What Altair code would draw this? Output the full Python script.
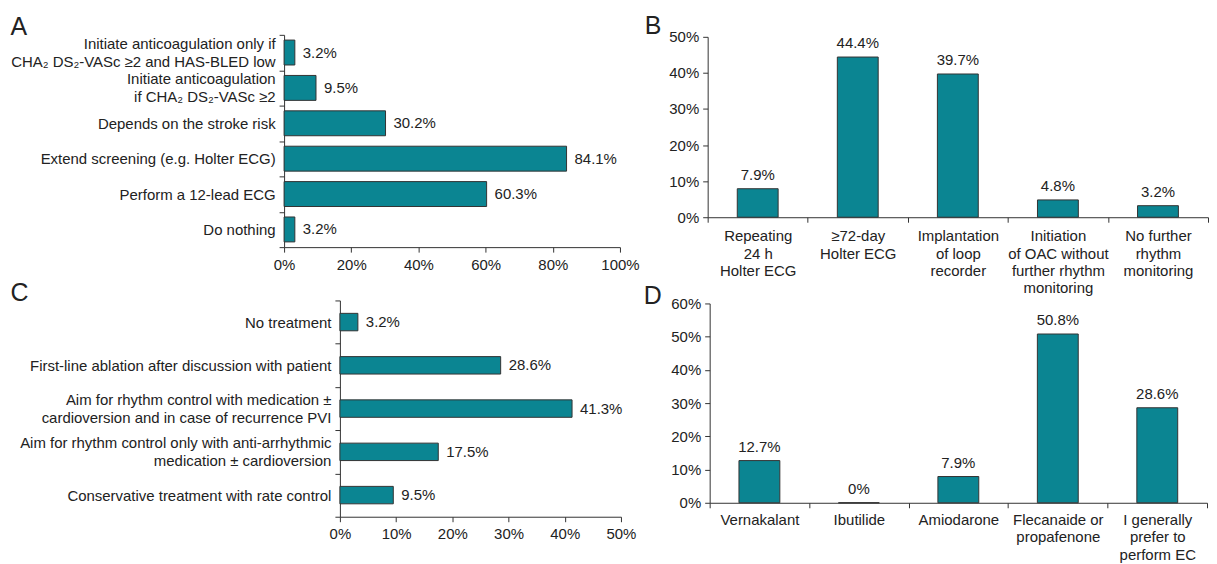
import altair as alt
import pandas as pd

TEAL = "#0B8592"
EDGE = "#333333"
TXT = "#222222"
FONT = "Liberation Sans"

# ---------------- data ----------------
a_cats = [
    "Initiate anticoagulation only if|CHA₂ DS₂-VASc ≥2 and HAS-BLED low",
    "Initiate anticoagulation|if CHA₂ DS₂-VASc ≥2",
    "Depends on the stroke risk",
    "Extend screening (e.g. Holter ECG)",
    "Perform a 12-lead ECG",
    "Do nothing",
]
a_vals = [3.2, 9.5, 30.2, 84.1, 60.3, 3.2]
a_ticks = [0, 20, 40, 60, 80, 100]

b_cats = [
    "Repeating|24 h|Holter ECG",
    "≥72-day|Holter ECG",
    "Implantation|of loop|recorder",
    "Initiation|of OAC without|further rhythm|monitoring",
    "No further|rhythm|monitoring",
]
b_vals = [7.9, 44.4, 39.7, 4.8, 3.2]
b_ticks = [0, 10, 20, 30, 40, 50]

c_cats = [
    "No treatment",
    "First-line ablation after discussion with patient",
    "Aim for rhythm control with medication ±|cardioversion and in case of recurrence PVI",
    "Aim for rhythm control only with anti-arrhythmic|medication ± cardioversion",
    "Conservative treatment with rate control",
]
c_vals = [3.2, 28.6, 41.3, 17.5, 9.5]
c_ticks = [0, 10, 20, 30, 40, 50]

d_cats = [
    "Vernakalant",
    "Ibutilide",
    "Amiodarone",
    "Flecanaide or|propafenone",
    "I generally|prefer to|perform EC",
]
d_vals = [12.7, 0, 7.9, 50.8, 28.6]
d_ticks = [0, 10, 20, 30, 40, 50, 60]

LBL = "datum.value == 0 ? '0%' : format(datum.value, '.1f') + '%'"
MULTI_OFFSET = {"condition": {"test": "indexof(datum.label, '|') >= 0", "value": -9}, "value": 0}


def letter_title(letter, dx, offset):
    return alt.TitleParams(letter, anchor="start", frame="bounds", dx=dx, offset=offset,
                           fontSize=25, fontWeight="normal", font=FONT, color=TXT)


def hbar(cats, vals, ticks, width, height, bar, letter, tdx, toff, inset=0):
    df = pd.DataFrame({"cat": cats, "value": vals})
    base = alt.Chart(df).transform_calculate(lbl=LBL).encode(
        y=alt.Y("cat:N", sort=cats, title=None,
                scale=alt.Scale(paddingInner=0, paddingOuter=0),
                axis=alt.Axis(tickBand="extent", labelExpr="split(datum.label, '|')",
                              labelLimit=600, labelPadding=4, labelLineHeight=18, tickSize=5,
                              labelOffset=MULTI_OFFSET, offset=-inset)),
        x=alt.X("value:Q", title=None,
                scale=alt.Scale(domain=[0, ticks[-1]], nice=False, zero=True,
                                range=[inset, inset + width]),
                axis=alt.Axis(values=ticks, labelExpr="datum.value + '%'", grid=False,
                              labelPadding=5, tickSize=5, labelFlush=False)),
    )
    bars = base.mark_bar(size=bar, fill=TEAL, stroke=EDGE, strokeWidth=1)
    text = base.mark_text(align="left", baseline="middle", dx=8, fontSize=15, font=FONT,
                          color=TXT).encode(text="lbl:N")
    return alt.layer(bars, text).properties(width=inset + width, height=height,
                                            title=letter_title(letter, tdx, toff))


def vbar(cats, vals, ticks, width, height, bar, letter, tdx, toff, lh, lpad, inset=0):
    df = pd.DataFrame({"cat": cats, "value": vals})
    base = alt.Chart(df).transform_calculate(lbl=LBL).encode(
        x=alt.X("cat:N", sort=cats, title=None,
                scale=alt.Scale(paddingInner=0, paddingOuter=0),
                axis=alt.Axis(tickBand="extent", labelExpr="split(datum.label, '|')",
                              labelAngle=0, labelLimit=600, labelPadding=lpad,
                              labelLineHeight=lh, tickSize=5, labelOverlap=False)),
        y=alt.Y("value:Q", title=None,
                scale=alt.Scale(domain=[0, ticks[-1]], nice=False, zero=True,
                                range=[inset + height, inset]),
                axis=alt.Axis(values=ticks, labelExpr="datum.value + '%'", grid=False,
                              labelPadding=4, tickSize=5, labelFlush=False)),
    )
    bars = base.mark_bar(size=bar, fill=TEAL, stroke=EDGE, strokeWidth=1)
    text = base.mark_text(align="center", baseline="bottom", dy=-6, fontSize=15, font=FONT,
                          color=TXT).encode(text="lbl:N")
    return alt.layer(bars, text).properties(width=width, height=inset + height,
                                            title=letter_title(letter, tdx, toff))


A = hbar(a_cats, a_vals, a_ticks, 337, 213, 25, "A", 0, -12)
B = vbar(b_cats, b_vals, b_ticks, 502, 181, 41, "B", -24, -9.5, 17.5, 6.5, inset=2)
C = hbar(c_cats, c_vals, c_ticks, 282, 217, 17.5, "C", -9, -13, inset=56)
D = vbar(d_cats, d_vals, d_ticks, 499, 200, 41, "D", -27, -12.5, 17.5, 4.5, inset=3)

row1 = alt.hconcat(A, B, spacing=4)
row2 = alt.hconcat(C, D, spacing=6)

chart = (
    alt.vconcat(row1, row2, spacing=-14.5)
    .properties(padding={"left": 2, "top": 5, "right": 0, "bottom": 0})
    .configure_view(stroke=None)
    .configure_axis(domainColor=EDGE, tickColor=EDGE, labelColor=TXT, labelFont=FONT,
                    labelFontSize=15, domainWidth=1, tickWidth=1)
)

chart.save("out.html", embed_options={"renderer": "svg", "actions": False})
